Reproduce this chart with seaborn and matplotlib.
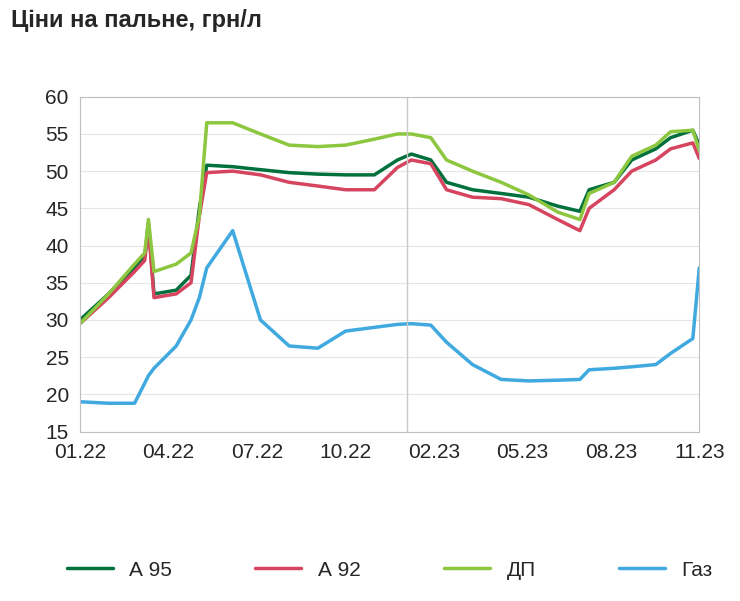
import matplotlib
matplotlib.use("Agg")
import matplotlib.pyplot as plt
import matplotlib.dates as mdates
import seaborn as sns
import pandas as pd
import numpy as np

sns.set_style("white")
plt.rcParams['font.family'] = ['Liberation Sans', 'DejaVu Sans']

dates = ["2022-01-01","2022-02-01","2022-03-01","2022-03-12","2022-03-16","2022-03-22","2022-04-15",
         "2022-05-01","2022-05-10","2022-05-18","2022-06-15","2022-07-15","2022-08-15","2022-09-15",
         "2022-10-15","2022-11-15","2022-12-10","2022-12-25","2023-01-15","2023-02-01","2023-03-01",
         "2023-04-01","2023-05-01","2023-06-01","2023-06-25","2023-07-05","2023-08-01","2023-08-20",
         "2023-09-15","2023-10-01","2023-10-25","2023-11-01"]
a95 = [30.0,33.5,37.0,38.5,43.0,33.5,34.0,36.0,45.0,50.8,50.6,50.2,49.8,49.6,49.5,49.5,51.5,52.3,51.5,48.5,47.5,47.0,46.5,45.3,44.6,47.5,48.5,51.5,53.0,54.5,55.5,53.5]
a92 = [29.5,33.0,36.5,38.0,42.5,33.0,33.5,35.0,44.0,49.8,50.0,49.5,48.5,48.0,47.5,47.5,50.5,51.5,51.0,47.5,46.5,46.3,45.5,43.5,42.0,45.0,47.5,50.0,51.5,53.0,53.8,51.7]
dp  = [29.5,33.5,37.5,39.0,43.5,36.5,37.5,39.0,44.0,56.5,56.5,55.0,53.5,53.3,53.5,54.3,55.0,55.0,54.5,51.5,50.0,48.5,46.8,44.5,43.5,47.0,48.5,52.0,53.5,55.3,55.5,52.8]
gas = [19.0,18.8,18.8,21.5,22.5,23.5,26.5,30.0,33.0,37.0,42.0,30.0,26.5,26.2,28.5,29.0,29.4,29.5,29.3,27.0,24.0,22.0,21.8,21.9,22.0,23.3,23.5,23.7,24.0,25.5,27.5,37.0]
tick_labels = ["01.22","04.22","07.22","10.22","02.23","05.23","08.23","11.23"]

df = pd.DataFrame({"date": pd.to_datetime(dates), "А 95": a95, "А 92": a92, "ДП": dp, "Газ": gas})
long = df.melt("date", var_name="s", value_name="v")
colors = {"А 95": "#00703c", "А 92": "#d6455f", "ДП": "#8dc63f", "Газ": "#3fa9e0"}

fig = plt.figure(figsize=(7.40, 6.01), dpi=100)
ax = fig.add_axes([0.108, 0.282, 0.837, 0.557])
ax.grid(axis="y", color="#e6e6e6", lw=0.8)
ax.set_axisbelow(True)
sns.lineplot(data=long, x="date", y="v", hue="s", palette=colors, linewidth=2.5, ax=ax)
ax.set_ylim(15, 60)
ax.set_yticks(range(15, 61, 5))
x0, x1 = pd.Timestamp("2022-01-01"), pd.Timestamp("2023-11-01")
ax.set_xlim(x0, x1)
pos = np.linspace(mdates.date2num(x0), mdates.date2num(x1), len(tick_labels))
ax.set_xticks(pos)
ax.set_xticklabels(tick_labels)
ax.axvline(pd.Timestamp("2022-12-20"), color="#c8c8c8", lw=1)
ax.set_xlabel(""); ax.set_ylabel("")
for s in ax.spines.values():
    s.set_color("#bfbfbf")
ax.tick_params(labelsize=15, length=0, pad=8)
ax.legend(loc="upper center", bbox_to_anchor=(0.5, -0.33), ncol=4, frameon=False, fontsize=15,
          handlelength=2.2, columnspacing=4)
fig.text(0.015, 0.955, "Ціни на пальне, грн/л", fontsize=17, fontweight="bold")
fig.savefig("out.png", dpi=100)
